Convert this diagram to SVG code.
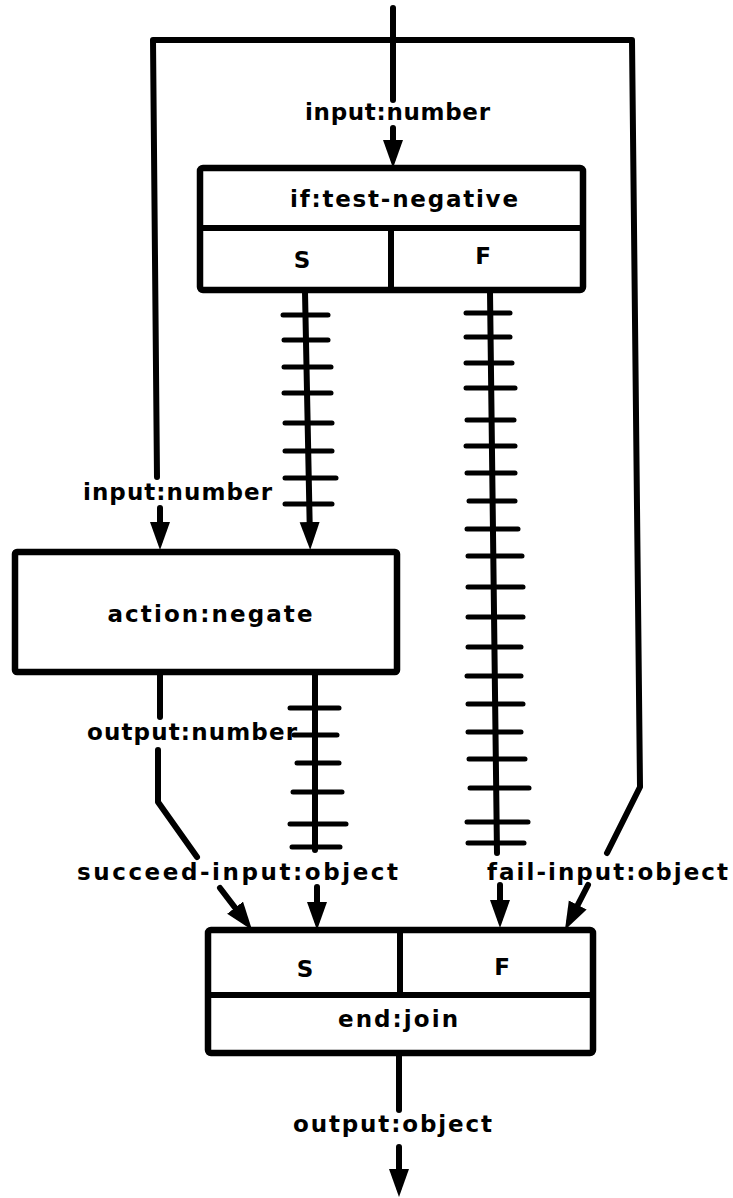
<svg xmlns="http://www.w3.org/2000/svg" width="733" height="1198" viewBox="0 0 733 1198">
<style>
.ln{fill:none;stroke:#000;stroke-width:6;stroke-linecap:round;stroke-linejoin:round}
.tk{fill:none;stroke:#000;stroke-width:5;stroke-linecap:round}
.box{fill:#fff;stroke:#000;stroke-width:6.5;stroke-linejoin:round}
.dv{fill:none;stroke:#000;stroke-width:6}
text{font-family:"DejaVu Sans","Liberation Sans",Arial,sans-serif;font-weight:bold;font-size:23px;fill:#000;text-anchor:middle}
</style>
<defs>
<marker id="ah" markerUnits="userSpaceOnUse" markerWidth="30" markerHeight="22" refX="18" refY="10" orient="auto" viewBox="0 0 30 22">
<path d="M0,0 L28,10 L0,20 Z" fill="#000"/>
</marker>
</defs>
<rect width="733" height="1198" fill="#fff"/>

<g id="connectors">
  <!-- outer frame -->
  <polyline class="ln" points="157,477 153,40 632,40 640,787 607,853"/>
  <!-- top input -->
  <line class="ln" x1="393" y1="8" x2="393" y2="100"/>
  <line class="ln" x1="393" y1="128" x2="393" y2="158" marker-end="url(#ah)"/>
  <!-- left frame arrow into action -->
  <line class="ln" x1="160" y1="508" x2="160" y2="540" marker-end="url(#ah)"/>
  <!-- S branch with ticks -->
  <line class="ln" x1="305" y1="292" x2="310" y2="540" marker-end="url(#ah)"/>
  <g class="tk">
    <line x1="283" y1="315" x2="328" y2="315"/>
    <line x1="284" y1="340" x2="328" y2="340"/>
    <line x1="284" y1="367" x2="331" y2="367"/>
    <line x1="284" y1="393" x2="331" y2="393"/>
    <line x1="285" y1="423" x2="332" y2="423"/>
    <line x1="285" y1="451" x2="332" y2="451"/>
    <line x1="285" y1="478" x2="336" y2="478"/>
    <line x1="285" y1="504" x2="332" y2="504"/>
  </g>
  <!-- F branch with ticks -->
  <line class="ln" x1="490" y1="292" x2="497" y2="853"/>
  <g class="tk">
    <line x1="466" y1="313" x2="510" y2="313"/>
    <line x1="466" y1="337" x2="510" y2="337"/>
    <line x1="466" y1="363" x2="512" y2="363"/>
    <line x1="466" y1="388" x2="515" y2="388"/>
    <line x1="467" y1="420" x2="514" y2="420"/>
    <line x1="466" y1="446" x2="515" y2="446"/>
    <line x1="467" y1="473" x2="515" y2="473"/>
    <line x1="469" y1="501" x2="515" y2="501"/>
    <line x1="467" y1="529" x2="518" y2="529"/>
    <line x1="468" y1="556" x2="522" y2="556"/>
    <line x1="468" y1="587" x2="523" y2="587"/>
    <line x1="468" y1="617" x2="523" y2="617"/>
    <line x1="468" y1="647" x2="521" y2="647"/>
    <line x1="467" y1="676" x2="521" y2="676"/>
    <line x1="468" y1="704" x2="523" y2="704"/>
    <line x1="468" y1="732" x2="521" y2="732"/>
    <line x1="469" y1="759" x2="525" y2="759"/>
    <line x1="470" y1="788" x2="529" y2="788"/>
    <line x1="467" y1="822" x2="528" y2="822"/>
    <line x1="468" y1="843" x2="524" y2="843"/>
  </g>
  <!-- action output number -->
  <line class="ln" x1="160" y1="673" x2="160" y2="717"/>
  <polyline class="ln" points="158,750 158,802 197,857"/>
  <!-- action right output with ticks -->
  <line class="ln" x1="315" y1="673" x2="315" y2="850"/>
  <g class="tk">
    <line x1="290" y1="708" x2="339" y2="708"/>
    <line x1="294" y1="735" x2="337" y2="735"/>
    <line x1="297" y1="763" x2="339" y2="763"/>
    <line x1="293" y1="792" x2="342" y2="792"/>
    <line x1="290" y1="824" x2="346" y2="824"/>
    <line x1="292" y1="847" x2="340" y2="847"/>
  </g>
  <!-- arrows into join -->
  <line class="ln" x1="220" y1="888" x2="246" y2="922" marker-end="url(#ah)"/>
  <line class="ln" x1="317" y1="887" x2="317" y2="920" marker-end="url(#ah)"/>
  <line class="ln" x1="500" y1="885" x2="500" y2="918" marker-end="url(#ah)"/>
  <line class="ln" x1="588" y1="885" x2="569.5" y2="921" marker-end="url(#ah)"/>
  <!-- output -->
  <line class="ln" x1="399" y1="1055" x2="399" y2="1110"/>
  <line class="ln" x1="399" y1="1147" x2="399" y2="1187" marker-end="url(#ah)"/>

  <!-- connector labels -->
  <text x="397.5" y="120" textLength="185" lengthAdjust="spacing">input:number</text>
  <text x="177.5" y="500" textLength="189" lengthAdjust="spacing">input:number</text>
  <text x="192" y="740" textLength="210" lengthAdjust="spacing">output:number</text>
  <text x="237.5" y="880" textLength="321" lengthAdjust="spacing">succeed-input:object</text>
  <text x="607.5" y="880" textLength="241" lengthAdjust="spacing">fail-input:object</text>
  <text x="392.5" y="1132" textLength="199" lengthAdjust="spacing">output:object</text>
</g>

<g id="if-node">
  <rect class="box" x="200" y="168" width="383" height="122" rx="3"/>
  <line class="dv" x1="200" y1="228" x2="583" y2="228"/>
  <line class="dv" x1="391" y1="228" x2="391" y2="290"/>
  <text x="404" y="207" textLength="228" lengthAdjust="spacing">if:test-negative</text>
  <text x="302" y="268">S</text>
  <text x="483" y="264">F</text>
</g>

<g id="action-node">
  <rect class="box" x="15" y="552" width="382" height="120" rx="2"/>
  <text x="210" y="622" textLength="205" lengthAdjust="spacing">action:negate</text>
</g>

<g id="join-node">
  <rect class="box" x="208" y="930" width="385" height="123" rx="3"/>
  <line class="dv" x1="208" y1="995" x2="593" y2="995"/>
  <line class="dv" x1="400" y1="930" x2="400" y2="995"/>
  <text x="305" y="977">S</text>
  <text x="502" y="975">F</text>
  <text x="398" y="1027" textLength="120" lengthAdjust="spacing">end:join</text>
</g>
</svg>
